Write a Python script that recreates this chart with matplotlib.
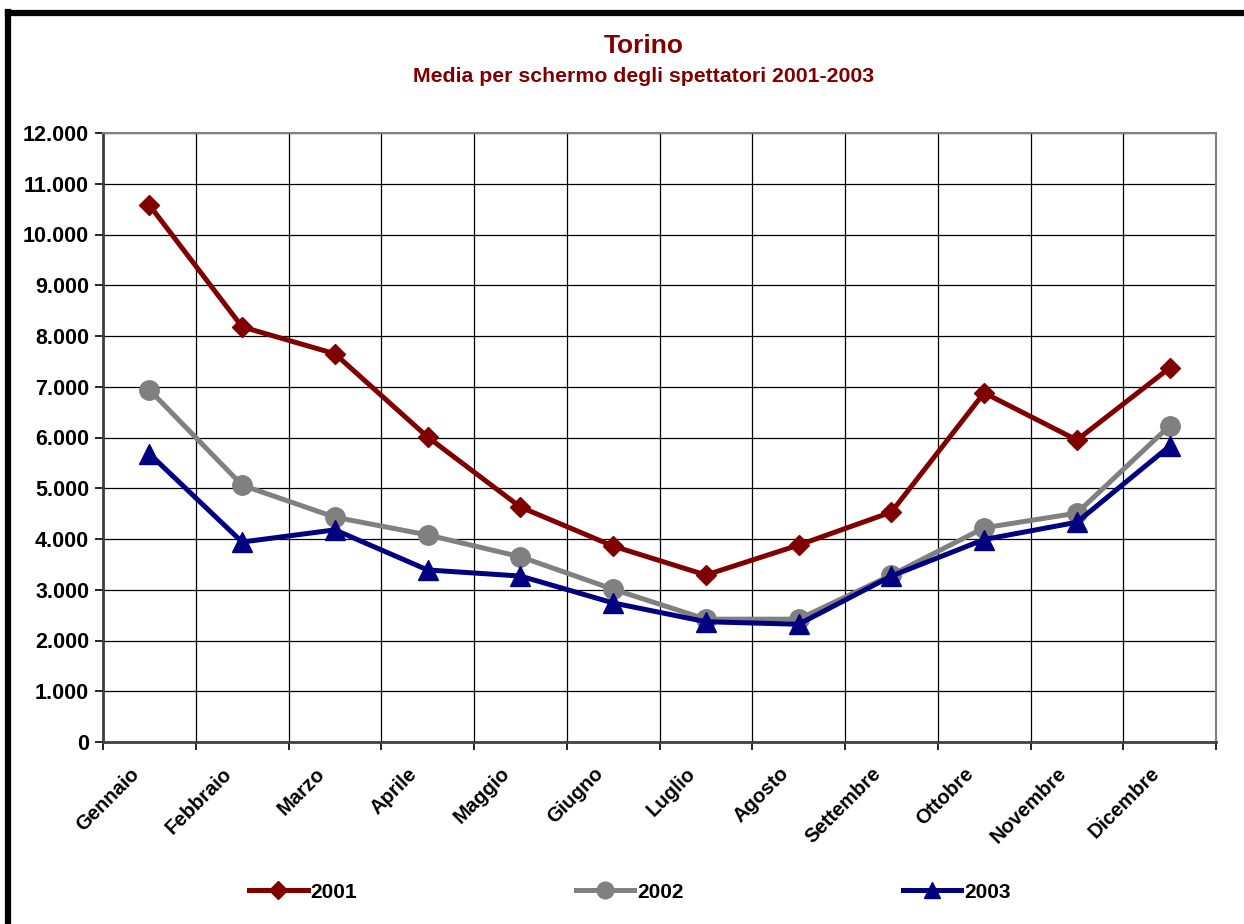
import matplotlib.pyplot as plt
from matplotlib.ticker import FuncFormatter, MultipleLocator
from matplotlib.lines import Line2D
from matplotlib.transforms import ScaledTranslation

plt.rcParams['font.family'] = ['Liberation Sans', 'DejaVu Sans']

mesi = ['Gennaio', 'Febbraio', 'Marzo', 'Aprile', 'Maggio', 'Giugno',
        'Luglio', 'Agosto', 'Settembre', 'Ottobre', 'Novembre', 'Dicembre']
v2001 = [10580, 8180, 7650, 6010, 4630, 3860, 3290, 3880, 4530, 6880, 5950, 7370]
v2002 = [6940, 5060, 4430, 4080, 3650, 3010, 2420, 2420, 3290, 4220, 4510, 6230]
v2003 = [5680, 3940, 4180, 3390, 3270, 2740, 2370, 2320, 3270, 3990, 4330, 5830]

rosso = '#800000'
grigio = '#808080'
blu = '#000080'

fig = plt.figure(figsize=(12.44, 9.24), dpi=100)
ax = fig.add_axes([103/1244, 1-742/924, (1216-103)/1244, (742-133)/924])

x = list(range(len(mesi)))
ax.plot(x, v2001, color=rosso, lw=3.6, marker='D', ms=10.5, label='2001', zorder=3)
ax.plot(x, v2002, color=grigio, lw=3.6, marker='o', ms=14, label='2002', zorder=4)
ax.plot(x, v2003, color=blu, lw=3.6, marker='^', ms=14, label='2003', zorder=5)

ax.set_xlim(-0.5, 11.5)
ax.set_ylim(0, 12000)
ax.yaxis.set_major_locator(MultipleLocator(1000))
ax.yaxis.set_major_formatter(FuncFormatter(lambda v, p: f'{int(v):,}'.replace(',', '.')))
ax.set_xticks(x)
ax.set_xticklabels([])
ax.set_xticks([i - 0.5 for i in range(13)], minor=True)
ax.tick_params(axis='x', which='major', length=0)
ax.tick_params(axis='x', which='minor', length=6, width=1.2, direction='out')
ax.tick_params(axis='y', length=6, width=1.2, labelsize=15.5, pad=4)
for t in ax.get_yticklabels():
    t.set_fontweight('bold')

# etichette dei mesi ruotate, spostate come nell'originale
sposta = ScaledTranslation(-0.20, -0.22, fig.dpi_scale_trans)
for i, m in enumerate(mesi):
    ax.text(i, 0, m, transform=ax.get_xaxis_transform() + sposta,
            rotation=45, ha='right', va='top', rotation_mode='anchor',
            fontsize=14.5, fontweight='bold', clip_on=False)

ax.grid(True, which='major', axis='y', color='black', lw=0.9)
ax.grid(True, which='minor', axis='x', color='black', lw=0.9)
ax.grid(False, which='major', axis='x')
ax.set_axisbelow(True)
for s in ['left', 'bottom']:
    ax.spines[s].set_color('#404040')
    ax.spines[s].set_linewidth(2)
for s in ['top', 'right']:
    ax.spines[s].set_color('#808080')
    ax.spines[s].set_linewidth(1.5)

fig.text(644/1244, 1-46/924, 'Torino', color=rosso, fontsize=19,
         fontweight='bold', ha='center', va='center')
fig.text(644/1244, 1-77/924, 'Media per schermo degli spettatori 2001-2003',
         color=rosso, fontsize=15.3, fontweight='bold', ha='center', va='center')

# legenda: tre voci distanziate
handles = [
    Line2D([], [], color=rosso, lw=3.6, marker='D', ms=9),
    Line2D([], [], color=grigio, lw=3.6, marker='o', ms=12),
    Line2D([], [], color=blu, lw=3.6, marker='^', ms=12),
]
leg = fig.legend(handles, ['2001', '2002', '2003'], loc='center',
                 bbox_to_anchor=(630/1244, 1-892/924), ncol=3, frameon=False,
                 handlelength=2.8, handletextpad=0.15, columnspacing=10.5,
                 prop={'weight': 'bold', 'size': 15})

# cornice esterna
fig.add_artist(Line2D([8/1244, 8/1244], [0, 1-12/924], color='black', lw=4.5,
                      transform=fig.transFigure, solid_capstyle='projecting'))
fig.add_artist(Line2D([8/1244, 1], [1-13/924, 1-13/924], color='black', lw=4.5,
                      transform=fig.transFigure, solid_capstyle='projecting'))

fig.savefig('out.png', dpi=100)
